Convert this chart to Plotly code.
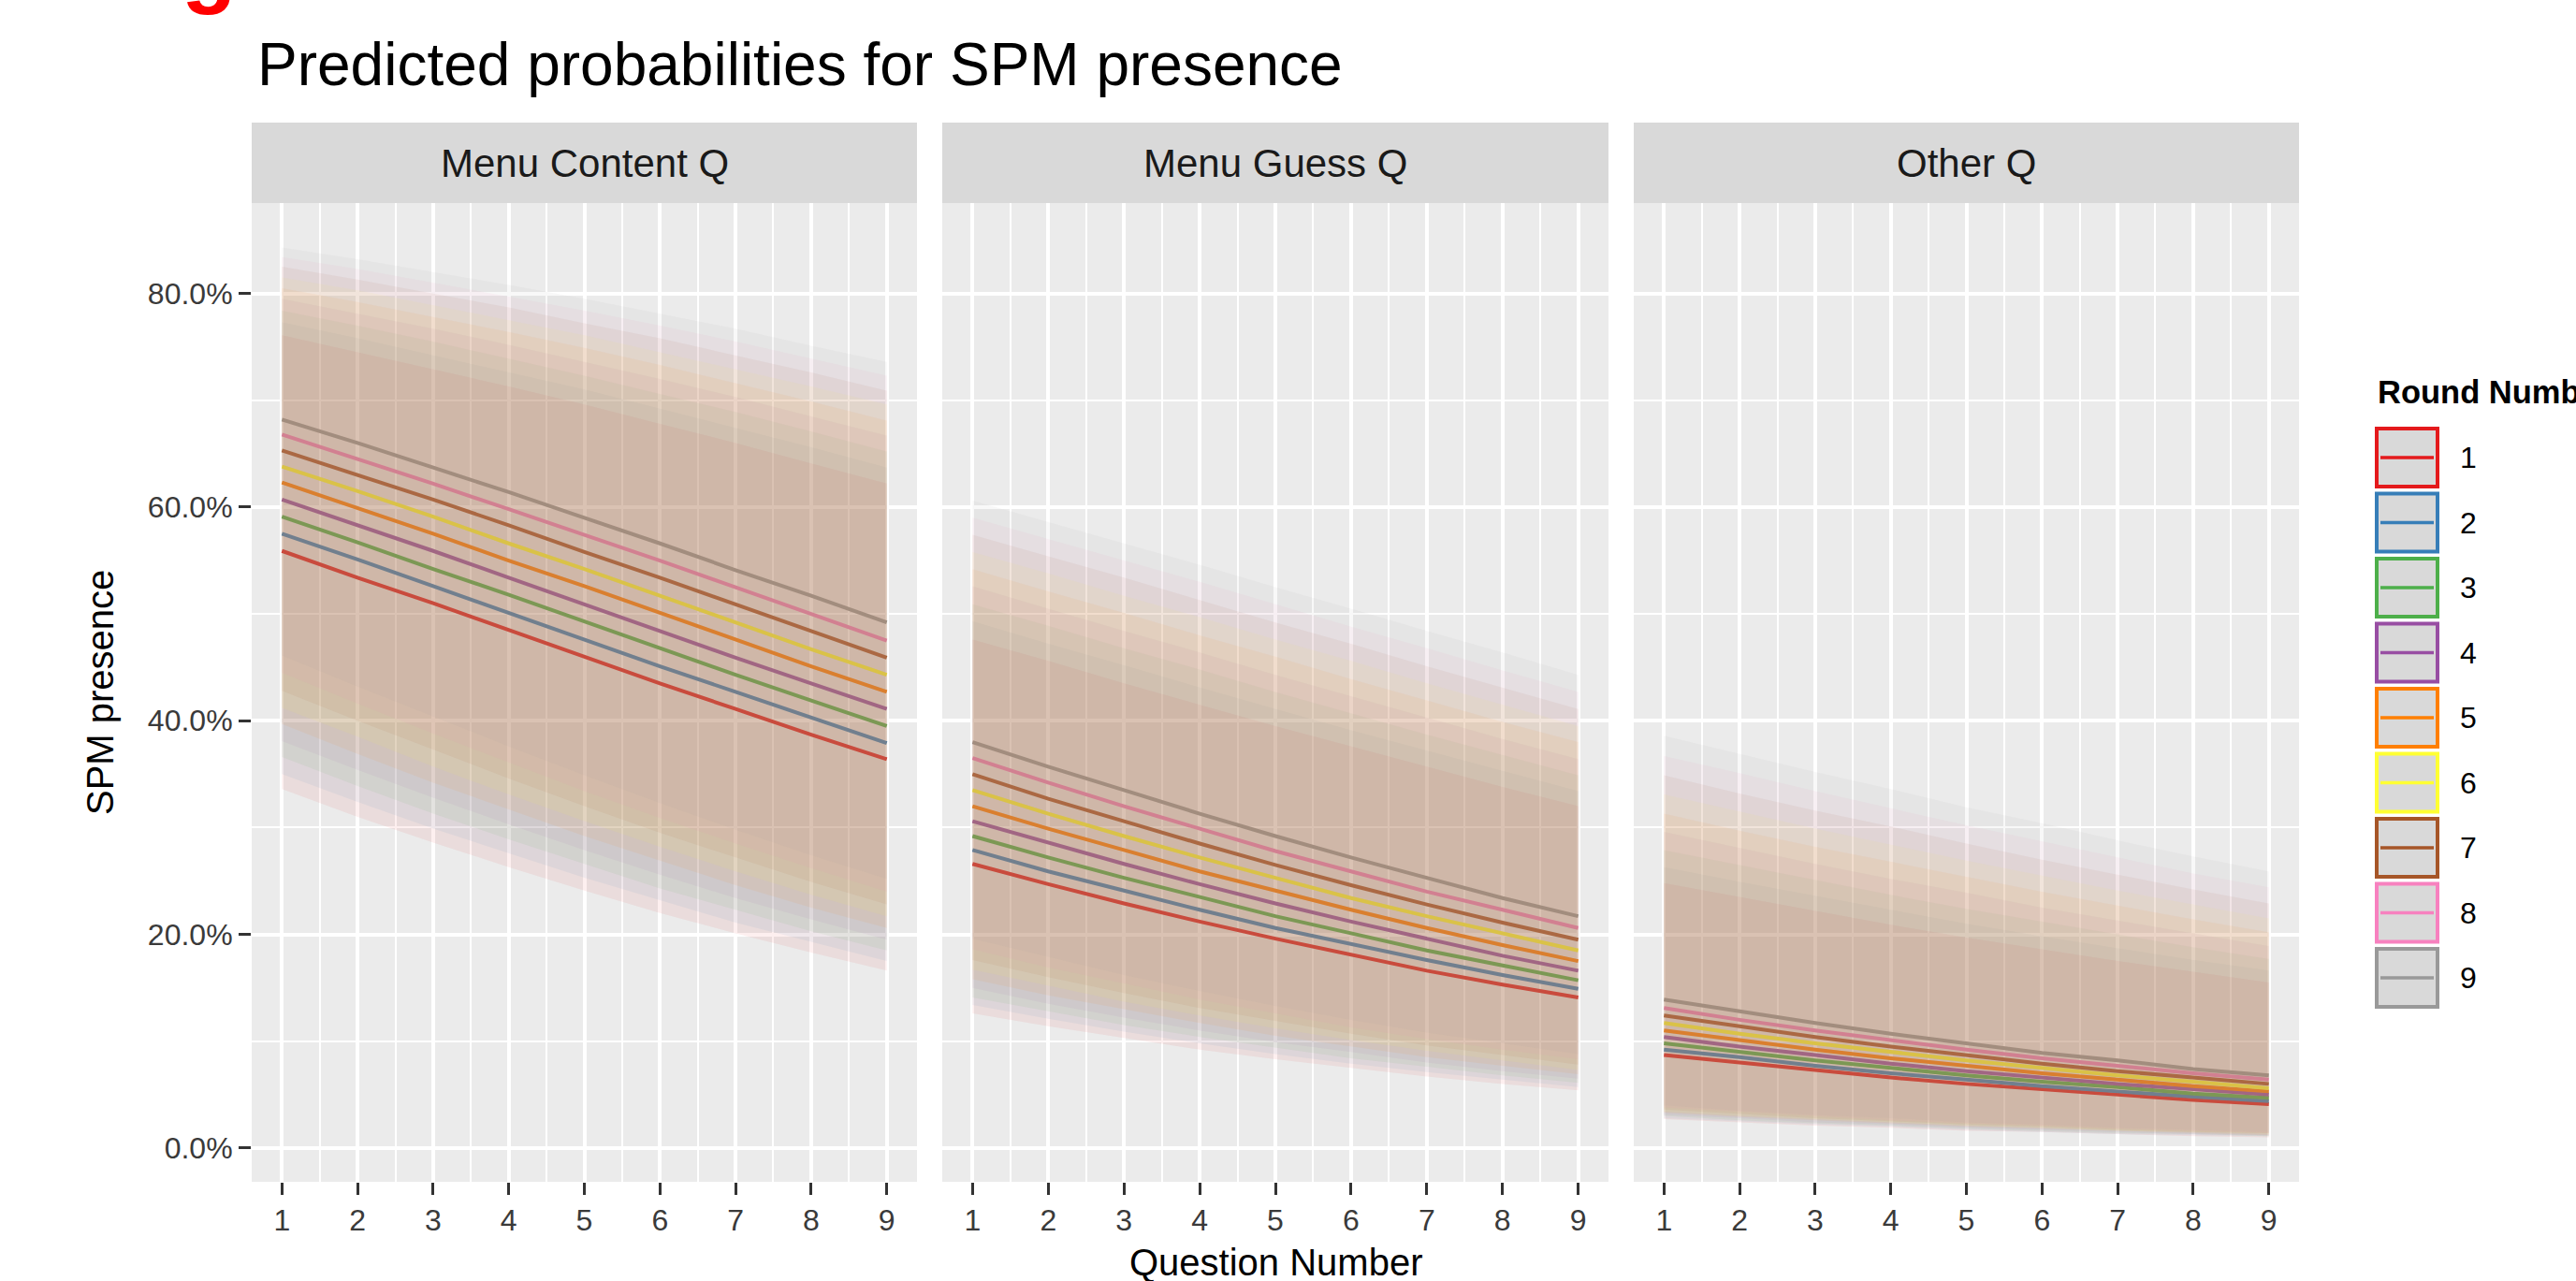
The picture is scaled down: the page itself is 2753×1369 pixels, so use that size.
import plotly.graph_objects as go

W, H = 2753, 1369

questions = [1, 2, 3, 4, 5, 6, 7, 8, 9]
rounds = ["1", "2", "3", "4", "5", "6", "7", "8", "9"]
facets = ["Menu Content Q", "Menu Guess Q", "Other Q"]
round_colors = ["#E41A1C", "#377EB8", "#4DAF4A", "#984EA3", "#FF7F00",
                "#FFFF33", "#A65628", "#F781BF", "#999999"]
y_ticks = [0, 20, 40, 60, 80]

# Menu Content Q: fitted value, lower and upper bound (%), rows = round 1..9, cols = question 1..9
mc_fit = [
    [55.9, 53.4, 51.0, 48.5, 46.0, 43.5, 41.1, 38.7, 36.4],
    [57.5, 55.1, 52.6, 50.1, 47.6, 45.1, 42.7, 40.3, 37.9],
    [59.1, 56.7, 54.2, 51.8, 49.3, 46.8, 44.3, 41.9, 39.5],
    [60.7, 58.3, 55.9, 53.4, 50.9, 48.4, 45.9, 43.5, 41.1],
    [62.3, 59.9, 57.5, 55.0, 52.6, 50.1, 47.6, 45.1, 42.7],
    [63.8, 61.5, 59.1, 56.6, 54.2, 51.7, 49.2, 46.7, 44.3],
    [65.3, 63.0, 60.7, 58.3, 55.8, 53.4, 50.9, 48.4, 45.9],
    [66.8, 64.5, 62.2, 59.8, 57.4, 55.0, 52.5, 50.0, 47.5],
    [68.2, 66.0, 63.7, 61.4, 59.0, 56.6, 54.1, 51.7, 49.2],
]
mc_lo = [
    [33.6, 31.0, 28.6, 26.3, 24.1, 22.0, 20.1, 18.3, 16.6],
    [35.0, 32.4, 29.9, 27.6, 25.3, 23.2, 21.1, 19.3, 17.5],
    [36.6, 33.9, 31.3, 28.9, 26.6, 24.3, 22.3, 20.3, 18.5],
    [38.1, 35.4, 32.8, 30.3, 27.9, 25.6, 23.4, 21.4, 19.5],
    [39.7, 36.9, 34.2, 31.7, 29.2, 26.9, 24.6, 22.5, 20.6],
    [41.2, 38.5, 35.7, 33.1, 30.6, 28.2, 25.9, 23.7, 21.7],
    [42.8, 40.0, 37.3, 34.6, 32.0, 29.5, 27.2, 24.9, 22.8],
    [44.5, 41.6, 38.8, 36.1, 33.4, 30.9, 28.5, 26.2, 24.0],
    [46.1, 43.2, 40.4, 37.6, 34.9, 32.3, 29.8, 27.4, 25.2],
]
mc_hi = [
    [76.1, 74.5, 72.9, 71.3, 69.6, 67.8, 66.0, 64.1, 62.2],
    [77.3, 75.8, 74.2, 72.6, 71.0, 69.2, 67.4, 65.6, 63.7],
    [78.4, 77.0, 75.5, 73.9, 72.3, 70.6, 68.9, 67.1, 65.2],
    [79.5, 78.1, 76.7, 75.2, 73.6, 72.0, 70.3, 68.5, 66.7],
    [80.5, 79.2, 77.8, 76.4, 74.9, 73.3, 71.6, 69.9, 68.1],
    [81.5, 80.3, 78.9, 77.5, 76.1, 74.5, 72.9, 71.3, 69.6],
    [82.5, 81.3, 80.0, 78.7, 77.2, 75.8, 74.2, 72.6, 70.9],
    [83.4, 82.3, 81.0, 79.7, 78.4, 77.0, 75.5, 73.9, 72.3],
    [84.3, 83.2, 82.0, 80.8, 79.5, 78.1, 76.7, 75.1, 73.6],
]

# Menu Guess Q
mg_fit = [
    [26.6, 24.7, 22.9, 21.2, 19.6, 18.1, 16.6, 15.3, 14.1],
    [27.9, 25.9, 24.1, 22.3, 20.6, 19.1, 17.6, 16.2, 14.9],
    [29.2, 27.2, 25.3, 23.5, 21.7, 20.1, 18.5, 17.1, 15.7],
    [30.6, 28.6, 26.6, 24.7, 22.9, 21.2, 19.6, 18.0, 16.6],
    [32.0, 29.9, 27.9, 25.9, 24.1, 22.3, 20.6, 19.0, 17.5],
    [33.5, 31.3, 29.2, 27.2, 25.3, 23.4, 21.7, 20.1, 18.5],
    [35.0, 32.7, 30.6, 28.5, 26.5, 24.6, 22.8, 21.1, 19.5],
    [36.5, 34.2, 32.0, 29.9, 27.8, 25.9, 24.0, 22.3, 20.6],
    [38.0, 35.7, 33.5, 31.3, 29.2, 27.2, 25.3, 23.4, 21.7],
]
mg_lo = [
    [12.6, 11.4, 10.3, 9.2, 8.3, 7.5, 6.7, 6.0, 5.4],
    [13.4, 12.1, 10.9, 9.8, 8.8, 7.9, 7.1, 6.4, 5.7],
    [14.1, 12.8, 11.5, 10.4, 9.4, 8.4, 7.6, 6.8, 6.1],
    [15.0, 13.5, 12.2, 11.0, 9.9, 9.0, 8.0, 7.2, 6.5],
    [15.8, 14.3, 13.0, 11.7, 10.5, 9.5, 8.5, 7.7, 6.9],
    [16.7, 15.2, 13.7, 12.4, 11.2, 10.1, 9.1, 8.2, 7.3],
    [17.6, 16.0, 14.5, 13.1, 11.9, 10.7, 9.6, 8.7, 7.8],
    [18.6, 16.9, 15.4, 13.9, 12.6, 11.3, 10.2, 9.2, 8.3],
    [19.6, 17.9, 16.2, 14.7, 13.3, 12.0, 10.8, 9.8, 8.8],
]
mg_hi = [
    [47.6, 45.6, 43.5, 41.5, 39.5, 37.6, 35.7, 33.8, 32.0],
    [49.3, 47.2, 45.2, 43.1, 41.1, 39.1, 37.2, 35.3, 33.4],
    [50.9, 48.9, 46.8, 44.8, 42.7, 40.7, 38.7, 36.8, 34.9],
    [52.6, 50.5, 48.4, 46.4, 44.3, 42.3, 40.3, 38.3, 36.4],
    [54.2, 52.1, 50.1, 48.0, 46.0, 43.9, 41.9, 39.9, 38.0],
    [55.8, 53.8, 51.7, 49.7, 47.6, 45.6, 43.5, 41.5, 39.5],
    [57.4, 55.4, 53.4, 51.3, 49.2, 47.2, 45.1, 43.1, 41.1],
    [59.0, 57.0, 55.0, 53.0, 50.9, 48.8, 46.8, 44.7, 42.7],
    [60.6, 58.6, 56.6, 54.6, 52.5, 50.5, 48.4, 46.4, 44.3],
]

# Other Q
ot_fit = [
    [8.7, 8.0, 7.3, 6.6, 6.0, 5.5, 5.0, 4.5, 4.1],
    [9.2, 8.5, 7.7, 7.0, 6.4, 5.8, 5.3, 4.8, 4.4],
    [9.8, 9.0, 8.2, 7.5, 6.8, 6.2, 5.7, 5.1, 4.7],
    [10.4, 9.5, 8.7, 7.9, 7.2, 6.6, 6.0, 5.5, 5.0],
    [11.0, 10.1, 9.2, 8.4, 7.7, 7.0, 6.4, 5.8, 5.3],
    [11.7, 10.7, 9.8, 9.0, 8.2, 7.5, 6.8, 6.2, 5.6],
    [12.4, 11.4, 10.4, 9.5, 8.7, 7.9, 7.2, 6.6, 6.0],
    [13.1, 12.0, 11.0, 10.1, 9.2, 8.4, 7.7, 7.0, 6.4],
    [13.9, 12.8, 11.7, 10.7, 9.8, 8.9, 8.2, 7.4, 6.8],
]
ot_lo = [
    [2.7, 2.4, 2.1, 1.9, 1.6, 1.5, 1.3, 1.1, 1.0],
    [2.8, 2.5, 2.2, 2.0, 1.7, 1.5, 1.3, 1.2, 1.1],
    [3.0, 2.6, 2.3, 2.1, 1.8, 1.6, 1.4, 1.3, 1.1],
    [3.1, 2.8, 2.4, 2.2, 1.9, 1.7, 1.5, 1.3, 1.2],
    [3.3, 2.9, 2.6, 2.3, 2.0, 1.8, 1.6, 1.4, 1.2],
    [3.4, 3.0, 2.7, 2.4, 2.1, 1.9, 1.6, 1.5, 1.3],
    [3.6, 3.2, 2.8, 2.5, 2.2, 2.0, 1.7, 1.5, 1.4],
    [3.8, 3.4, 3.0, 2.6, 2.3, 2.1, 1.8, 1.6, 1.4],
    [4.0, 3.5, 3.1, 2.8, 2.4, 2.2, 1.9, 1.7, 1.5],
]
ot_hi = [
    [24.8, 23.5, 22.2, 20.9, 19.7, 18.6, 17.5, 16.5, 15.5],
    [26.3, 24.9, 23.6, 22.3, 21.0, 19.8, 18.7, 17.6, 16.6],
    [27.9, 26.5, 25.1, 23.7, 22.4, 21.2, 20.0, 18.8, 17.7],
    [29.6, 28.1, 26.6, 25.2, 23.9, 22.5, 21.3, 20.1, 18.9],
    [31.3, 29.7, 28.2, 26.8, 25.4, 24.0, 22.7, 21.4, 20.2],
    [33.1, 31.5, 29.9, 28.4, 26.9, 25.5, 24.1, 22.8, 21.5],
    [34.9, 33.2, 31.6, 30.1, 28.5, 27.0, 25.6, 24.2, 22.9],
    [36.7, 35.1, 33.4, 31.8, 30.2, 28.7, 27.2, 25.7, 24.4],
    [38.6, 36.9, 35.2, 33.6, 31.9, 30.4, 28.8, 27.3, 25.9],
]

panel_data = [(mc_fit, mc_lo, mc_hi), (mg_fit, mg_lo, mg_hi), (ot_fit, ot_lo, ot_hi)]

# ---------------- layout geometry (pixels) ----------------
def px(x):
    return x / W

def py(y):
    return 1 - y / H

panel_x = [(269, 980), (1007, 1719), (1746, 2457)]
panel_top, panel_bot = 217, 1263
strip_top = 131
FONT = "Liberation Sans, Arial, Helvetica, sans-serif"
RIBBON_ALPHA = 0.07


def rgba(hexc, a):
    hexc = hexc.lstrip("#")
    r, g, b = int(hexc[0:2], 16), int(hexc[2:4], 16), int(hexc[4:6], 16)
    return f"rgba({r},{g},{b},{a})"


fig = go.Figure()

for p, (fit, lo, hi) in enumerate(panel_data):
    xa = "x" if p == 0 else f"x{p + 1}"
    ya = "y" if p == 0 else f"y{p + 1}"
    # lines first (the semi-transparent ribbons sit on top of them)
    for r in range(len(rounds)):
        fig.add_trace(go.Scatter(
            x=questions, y=fit[r], mode="lines",
            line=dict(color=round_colors[r], width=4),
            xaxis=xa, yaxis=ya, showlegend=False, hoverinfo="skip"))
    for r in range(len(rounds)):
        fig.add_trace(go.Scatter(
            x=questions + questions[::-1], y=lo[r] + hi[r][::-1],
            mode="lines", fill="toself", line=dict(width=0),
            fillcolor=rgba(round_colors[r], RIBBON_ALPHA),
            xaxis=xa, yaxis=ya, showlegend=False, hoverinfo="skip"))

y_range = [-3.165, 88.465]
x_range = [0.6, 9.4]
tick_font = dict(family=FONT, size=32, color="#3a3a3a")

layout_axes = {}
for p in range(3):
    xkey = "xaxis" if p == 0 else f"xaxis{p + 1}"
    ykey = "yaxis" if p == 0 else f"yaxis{p + 1}"
    xa = "x" if p == 0 else f"x{p + 1}"
    ya = "y" if p == 0 else f"y{p + 1}"
    layout_axes[xkey] = dict(
        domain=[px(panel_x[p][0]), px(panel_x[p][1])], anchor=ya,
        range=x_range, tickmode="array", tickvals=questions,
        ticktext=[str(q) for q in questions],
        showgrid=True, gridcolor="white", gridwidth=3.5,
        minor=dict(tickmode="array", tickvals=[q + 0.5 for q in questions[:-1]],
                   showgrid=True, gridcolor="white", gridwidth=2, ticks=""),
        ticks="outside", ticklen=13, tickwidth=3, tickcolor="#333333",
        tickfont=tick_font, zeroline=False, showline=False, fixedrange=True)
    layout_axes[ykey] = dict(
        domain=[py(panel_bot), py(panel_top)], anchor=xa,
        range=y_range, tickmode="array", tickvals=y_ticks,
        ticktext=[f"{v:.1f}%" for v in y_ticks],
        showgrid=True, gridcolor="white", gridwidth=3.5,
        minor=dict(tickmode="array", tickvals=[10, 30, 50, 70],
                   showgrid=True, gridcolor="white", gridwidth=2, ticks=""),
        ticks="outside" if p == 0 else "", ticklen=13, tickwidth=3,
        tickcolor="#333333", showticklabels=(p == 0),
        tickfont=tick_font, zeroline=False, showline=False, fixedrange=True)

shapes = []
annotations = []

# facet strips
for p, name in enumerate(facets):
    x0, x1 = panel_x[p]
    shapes.append(dict(type="rect", xref="paper", yref="paper",
                       x0=px(x0), x1=px(x1), y0=py(panel_top), y1=py(strip_top),
                       fillcolor="#D9D9D9", line=dict(width=0)))
    annotations.append(dict(text=name, xref="paper", yref="paper",
                            x=px((x0 + x1) / 2), y=py((strip_top + panel_top) / 2),
                            xanchor="center", yanchor="middle", showarrow=False,
                            font=dict(family=FONT, size=42, color="#1A1A1A")))

# title
annotations.append(dict(text="Predicted probabilities for SPM presence",
                        xref="paper", yref="paper", x=px(273), y=py(68.5),
                        xanchor="left", yanchor="middle", showarrow=False,
                        font=dict(family=FONT, size=64, color="black")))
# red heading remnant at the very top
annotations.append(dict(text="<b>g</b>", xref="paper", yref="paper",
                        x=px(223), y=py(-38), xanchor="center", yanchor="middle",
                        showarrow=False, borderpad=0,
                        font=dict(family=FONT, size=96, color="#FF0000")))
# axis titles
annotations.append(dict(text="Question Number", xref="paper", yref="paper",
                        x=px((269 + 2457) / 2), y=py(1349), xanchor="center",
                        yanchor="middle", showarrow=False,
                        font=dict(family=FONT, size=40, color="black")))
annotations.append(dict(text="SPM presence", xref="paper", yref="paper",
                        x=px(107), y=py((panel_top + panel_bot) / 2), xanchor="center",
                        yanchor="middle", textangle=-90, showarrow=False,
                        font=dict(family=FONT, size=40, color="black")))

# legend (drawn manually: ggplot-style keys)
annotations.append(dict(text="<b>Round Number</b>", xref="paper", yref="paper",
                        x=px(2539), y=py(419.5), xanchor="left", yanchor="middle",
                        showarrow=False,
                        font=dict(family=FONT, size=34.5, color="black")))
key_left, key_right, key_h, key_pitch, key_top0 = 2538, 2607, 66, 69.5, 456
for i, lab in enumerate(rounds):
    top = key_top0 + key_pitch * i
    bot = top + key_h
    mid = (top + bot) / 2
    shapes.append(dict(type="rect", xref="paper", yref="paper",
                       x0=px(key_left + 2), x1=px(key_right - 2),
                       y0=py(bot - 2), y1=py(top + 2),
                       fillcolor="#D9D9D9", line=dict(color=round_colors[i], width=4)))
    shapes.append(dict(type="line", xref="paper", yref="paper",
                       x0=px(key_left + 6), x1=px(key_right - 6), y0=py(mid), y1=py(mid),
                       line=dict(color=round_colors[i], width=3.5)))
    annotations.append(dict(text=lab, xref="paper", yref="paper",
                            x=px(2627), y=py(mid), xanchor="left", yanchor="middle",
                            showarrow=False,
                            font=dict(family=FONT, size=32, color="black")))

fig.update_layout(
    width=W, height=H,
    margin=dict(l=0, r=0, t=0, b=0, pad=0),
    paper_bgcolor="white", plot_bgcolor="#EBEBEB",
    showlegend=False,
    shapes=shapes, annotations=annotations,
    font=dict(family=FONT),
    **layout_axes,
)

fig.write_html(
    "out.html",
    config={"displayModeBar": False},
    post_script="document.body.style.margin='0px';"
                "document.body.style.overflow='hidden';",
)
